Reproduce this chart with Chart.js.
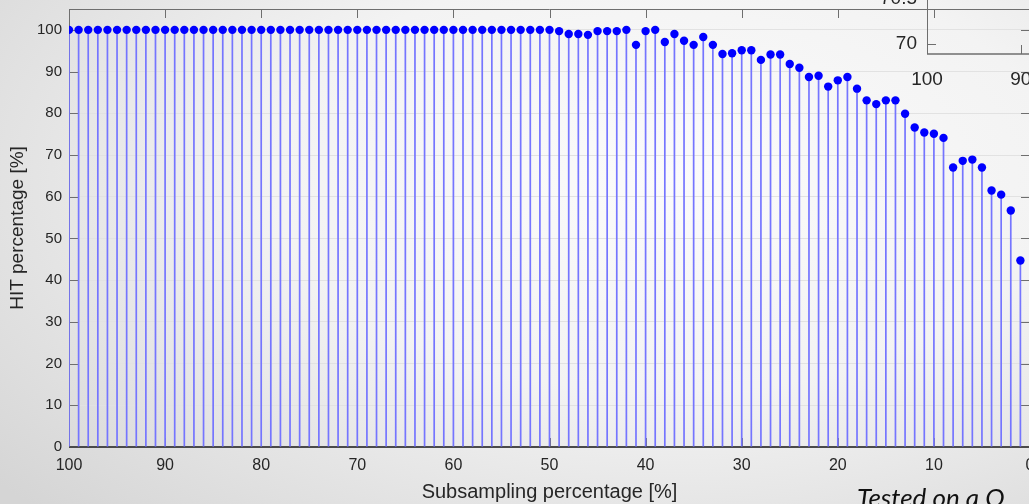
<!DOCTYPE html>
<html>
<head>
<meta charset="utf-8">
<title>HIT percentage vs subsampling</title>
<script src="https://cdn.jsdelivr.net/npm/chart.js@4.4.1/dist/chart.umd.min.js"></script>
<style>
  html, body { margin: 0; padding: 0; width: 1029px; height: 504px; overflow: hidden; }
  body {
    position: relative;
    background: radial-gradient(ellipse 85% 95% at 65% 35%, #fbfbfb 0%, #f3f3f3 45%, #d5d5d5 100%);
    font-family: "Liberation Sans", Arial, sans-serif;
  }
  #main { position: absolute; left: 0; top: 0; }
  #inset { position: absolute; left: 880px; top: -100px; }
  .note {
    position: absolute; left: 857px; top: 484px;
    font: italic 26px Lato, "Open Sans", sans-serif; color: #111;
    white-space: nowrap; line-height: 1;
  }
</style>
</head>
<body>
<canvas id="main" width="1070" height="504"></canvas>
<canvas id="inset" width="300" height="200"></canvas>
<div class="note">Tested on a Q</div>

<script>
// subsampling percentage, from full set down to 1 %
const SUBSAMPLING = [
  100, 99, 98, 97, 96, 95, 94, 93, 92, 91,
  90, 89, 88, 87, 86, 85, 84, 83, 82, 81,
  80, 79, 78, 77, 76, 75, 74, 73, 72, 71,
  70, 69, 68, 67, 66, 65, 64, 63, 62, 61,
  60, 59, 58, 57, 56, 55, 54, 53, 52, 51,
  50, 49, 48, 47, 46, 45, 44, 43, 42, 41,
  40, 39, 38, 37, 36, 35, 34, 33, 32, 31,
  30, 29, 28, 27, 26, 25, 24, 23, 22, 21,
  20, 19, 18, 17, 16, 15, 14, 13, 12, 11,
  10, 9, 8, 7, 6, 5, 4, 3, 2, 1
];

// HIT percentage for each subsampling step (same order as above)
const HIT = [
  100, 100, 100, 100, 100, 100, 100, 100, 100, 100,
  100, 100, 100, 100, 100, 100, 100, 100, 100, 100,
  100, 100, 100, 100, 100, 100, 100, 100, 100, 100,
  100, 100, 100, 100, 100, 100, 100, 100, 100, 100,
  100, 100, 100, 100, 100, 100, 100, 100, 100, 100,
  100, 99.7, 99.0, 99.0, 98.8, 99.7, 99.7, 99.7, 100, 96.4,
  99.7, 100, 97.1, 99.0, 97.4, 96.4, 98.3, 96.4, 94.2, 94.4,
  95.1, 95.1, 92.8, 94.1, 94.1, 91.8, 90.9, 88.7, 89.0, 86.4,
  87.9, 88.7, 85.9, 83.1, 82.2, 83.1, 83.1, 79.9, 76.6, 75.4,
  75.1, 74.1, 67.0, 68.6, 68.9, 67.0, 61.5, 60.5, 56.7, 44.7
];

const X_TICKS = [100, 90, 80, 70, 60, 50, 40, 30, 20, 10, 0];
const Y_TICKS = [0, 10, 20, 30, 40, 50, 60, 70, 80, 90, 100];

// zoomed inset axes (only its lower-left corner shows)
const INSET_X_TICKS = [100, 90, 80];
const INSET_Y_TICKS = [70, 70.5, 71, 71.5];

const TEXT = '#262626';
const STEM = '#7575ff';
const DOT = '#0000ff';

// axes frame with inward tick marks, drawn beneath the data like MATLAB
const axisBox = {
  id: 'axisBox',
  beforeDatasetsDraw(chart, args, opts) {
    const {ctx, chartArea: a, scales} = chart;
    const L = opts.tickLen;
    ctx.save();
    ctx.strokeStyle = opts.color;
    ctx.lineWidth = 1;
    ctx.beginPath();
    ctx.moveTo(a.left + 0.5, a.top + 0.5);
    ctx.lineTo(a.right - 0.5, a.top + 0.5);
    ctx.lineTo(a.right - 0.5, a.bottom);
    ctx.moveTo(a.left + 0.5, a.top);
    ctx.lineTo(a.left + 0.5, a.bottom);
    scales.x.ticks.forEach(t => {
      const px = Math.round(scales.x.getPixelForValue(t.value)) + 0.5;
      ctx.moveTo(px, a.bottom); ctx.lineTo(px, a.bottom - L);
      ctx.moveTo(px, a.top); ctx.lineTo(px, a.top + L);
    });
    scales.y.ticks.forEach(t => {
      const py = Math.round(scales.y.getPixelForValue(t.value)) + 0.5;
      ctx.moveTo(a.left, py); ctx.lineTo(a.left + L, py);
      ctx.moveTo(a.right, py); ctx.lineTo(a.right - L, py);
    });
    ctx.stroke();
    ctx.strokeStyle = opts.baseColor;
    ctx.lineWidth = opts.baseWidth;
    ctx.beginPath();
    ctx.moveTo(a.left, a.bottom);
    ctx.lineTo(a.right, a.bottom);
    ctx.stroke();
    ctx.restore();
  }
};

// keep tick-label overhang from shrinking the plot area
function noOverhang(s) {
  s.paddingTop = 0; s.paddingBottom = 0;
  s.paddingLeft = 0; s.paddingRight = 0;
}

const points = HIT.map((v, i) => ({x: SUBSAMPLING[i], y: v}));

new Chart(document.getElementById('main'), {
  type: 'scatter',
  data: {
    datasets: [
      {
        type: 'scatter',
        data: points,
        order: 0,
        pointRadius: 4.2,
        pointBackgroundColor: DOT,
        pointBorderWidth: 0
      },
      {
        type: 'bar',
        data: points,
        order: 1,
        backgroundColor: STEM,
        borderWidth: 0,
        barThickness: 1.7,
        inflateAmount: 0
      }
    ]
  },
  options: {
    responsive: false,
    animation: false,
    events: [],
    layout: {padding: {top: 9, right: 40, bottom: 0, left: 0}},
    plugins: {
      legend: {display: false},
      tooltip: {enabled: false},
      axisBox: {color: '#6e6e6e', baseColor: '#4a4a4a', baseWidth: 2, tickLen: 9}
    },
    scales: {
      x: {
        type: 'linear',
        reverse: true,
        offset: false,
        min: 0,
        max: 100,
        afterBuildTicks: s => { s.ticks = X_TICKS.map(v => ({value: v})); },
        afterFit: s => { s.height = 57; noOverhang(s); },
        grid: {display: false, drawTicks: false, offset: false},
        border: {display: false},
        ticks: {color: TEXT, font: {size: 16}, padding: 9, maxRotation: 0},
        title: {
          display: true, text: 'Subsampling percentage [%]',
          color: TEXT, font: {size: 20}, padding: {top: 0, bottom: 0}
        }
      },
      y: {
        min: 0,
        max: 105,
        afterBuildTicks: s => { s.ticks = Y_TICKS.map(v => ({value: v})); },
        afterFit: s => { s.width = 69; noOverhang(s); },
        grid: {color: '#e2e2e2', lineWidth: 1, drawTicks: false},
        border: {display: false},
        ticks: {color: TEXT, font: {size: 15}, padding: 7},
        title: {
          display: true, text: 'HIT percentage [%]',
          color: TEXT, font: {size: 19}, padding: {top: 6, bottom: 0}
        }
      }
    }
  },
  plugins: [axisBox]
});

// inset axes: frame and labels only
new Chart(document.getElementById('inset'), {
  type: 'scatter',
  data: {datasets: [{data: []}]},
  options: {
    responsive: false,
    animation: false,
    events: [],
    layout: {padding: 0},
    plugins: {
      legend: {display: false},
      tooltip: {enabled: false},
      axisBox: {color: '#6e6e6e', baseColor: '#6e6e6e', baseWidth: 1.5, tickLen: 9}
    },
    scales: {
      x: {
        type: 'linear',
        reverse: true,
        min: 73,
        max: 100,
        afterBuildTicks: s => { s.ticks = INSET_X_TICKS.map(v => ({value: v})); },
        afterFit: s => { s.height = 46; noOverhang(s); },
        grid: {display: false, drawTicks: false},
        border: {display: false},
        ticks: {color: TEXT, font: {size: 19}, padding: 14, maxRotation: 0}
      },
      y: {
        min: 69.89,
        max: 71.6,
        afterBuildTicks: s => { s.ticks = INSET_Y_TICKS.map(v => ({value: v})); },
        afterFit: s => { s.width = 47; noOverhang(s); },
        grid: {display: false, drawTicks: false},
        border: {display: false},
        ticks: {color: TEXT, font: {size: 19}, padding: 10, callback: v => String(v)}
      }
    }
  },
  plugins: [axisBox]
});
</script>
</body>
</html>
